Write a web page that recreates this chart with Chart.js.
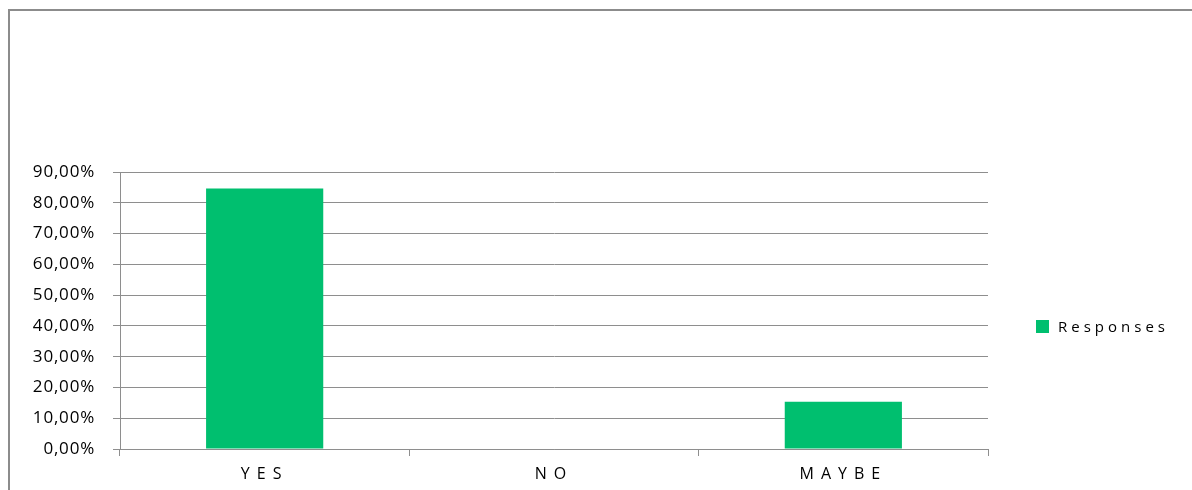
<!DOCTYPE html>
<html>
<head>
<meta charset="utf-8">
<script src="https://cdn.jsdelivr.net/npm/chart.js@4.4.1/dist/chart.umd.min.js"></script>
<style>
  html, body { margin: 0; padding: 0; background: #fff; overflow: hidden; }
  #frame {
    position: absolute; left: 8px; top: 9px; width: 1200px; height: 500px;
    border: 2px solid #8c8c8c; box-sizing: border-box;
  }
  #wrap { position: absolute; left: 0; top: 0; width: 1192px; height: 490px; }
</style>
</head>
<body>
<div id="frame"></div>
<div id="wrap"><canvas id="responsesChart"></canvas></div>
<script>
// values
const categories = ["YES", "NO", "MAYBE"];
const responses = [84.62, 0, 15.38];
const seriesName = "Responses";

const GREEN = "#00bf6f";
const GRID = "#8e8e8e";
const FONT = "'Open Sans', sans-serif";

function fmtPct(v) {
    return v.toFixed(2).replace(".", ",") + "%";
}

// letter spacing like the original render + legend drawn by hand on the right
const spacingPlugin = {
    id: "spacing",
    beforeDraw(chart) {
        chart.ctx.letterSpacing = "0.8px";
        const x = chart.scales.x;
        if (x && !x._spaced) {
            const orig = x.drawLabels;
            x.drawLabels = function (area) {
                const c = this.ctx;
                c.save();
                c.letterSpacing = "7px";
                orig.call(this, area);
                c.restore();
            };
            x._spaced = true;
        }
    },
    afterDraw(chart) {
        const c = chart.ctx;
        const area = chart.chartArea;
        const ds = chart.data.datasets[0];
        const cy = (area.top + area.bottom) / 2 + 16;
        const bx = area.right + 48;
        c.save();
        c.fillStyle = ds.backgroundColor;
        c.fillRect(bx, cy - 6.5, 13, 13);
        c.letterSpacing = "4px";
        c.fillStyle = "#000";
        c.font = "15px " + FONT;
        c.textBaseline = "middle";
        c.textAlign = "left";
        c.fillText(ds.label, bx + 22, cy + 1);
        c.restore();
    },
};

const ctx = document.getElementById("responsesChart").getContext("2d");
new Chart(ctx, {
    type: "bar",
    data: {
        labels: categories,
        datasets: [{
            label: seriesName,
            data: responses,
            backgroundColor: GREEN,
            borderWidth: 0,
            categoryPercentage: 1,
            barPercentage: 0.405,
        }],
    },
    options: {
        responsive: true,
        maintainAspectRatio: false,
        animation: false,
        layout: { padding: { top: 172, right: 204, bottom: 0, left: 0 } },
        plugins: {
            legend: { display: false },
            tooltip: { enabled: false },
        },
        scales: {
            x: {
                afterFit(scale) { scale.height = 41; },
                grid: {
                    drawOnChartArea: false,
                    drawTicks: true,
                    tickLength: 7,
                    color: GRID,
                    offset: true,
                },
                border: { color: GRID, width: 1 },
                ticks: {
                    padding: 9,
                    color: "#000",
                    font: { family: FONT, size: 16 },
                },
            },
            y: {
                min: 0,
                max: 90,
                afterFit(scale) { scale.width = 120; },
                grid: {
                    color: GRID,
                    lineWidth: 1,
                    tickLength: 7,
                },
                border: { color: GRID, width: 1 },
                ticks: {
                    stepSize: 10,
                    padding: 18,
                    color: "#000",
                    font: { family: FONT, size: 17 },
                    callback: (v) => fmtPct(v),
                },
            },
        },
    },
    plugins: [spacingPlugin],
});
</script>
</body>
</html>
